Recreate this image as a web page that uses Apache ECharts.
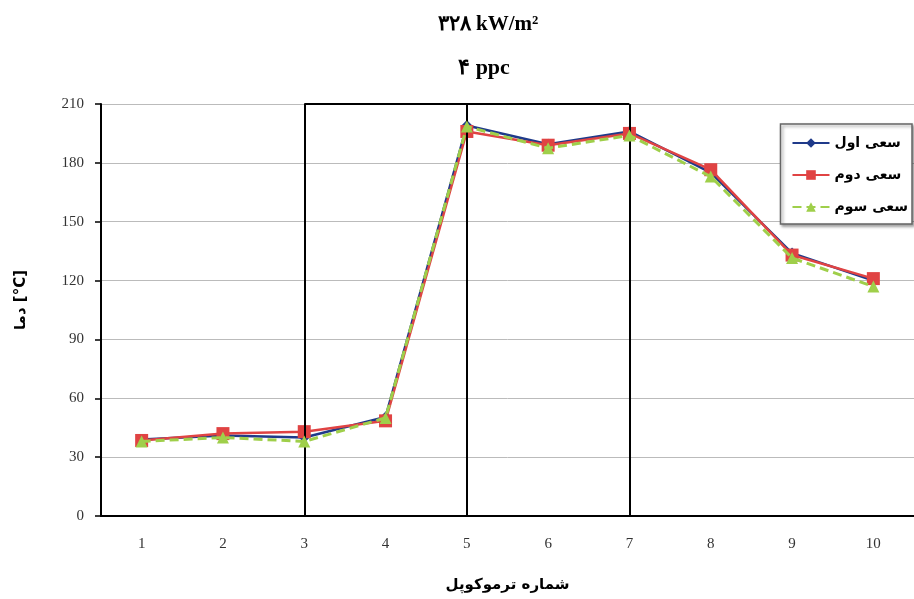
<!DOCTYPE html>
<html>
<head>
<meta charset="utf-8">
<script src="https://cdn.jsdelivr.net/npm/echarts@6/dist/echarts.min.js"></script>
<style>html,body{margin:0;padding:0;background:#fff}#c{width:914px;height:599px}</style>
</head>
<body>
<div id="c"></div>
<script>
var categories = ['1','2','3','4','5','6','7','8','9','10'];
var series1 = [39, 41, 40, 50.5, 199, 189.5, 196, 175, 134, 120];
var series2 = [38.5, 42, 43, 48.5, 196, 189, 195, 176.5, 133, 121];
var series3 = [38, 40, 38, 50, 198.5, 187.5, 194, 173, 131.5, 117];
var seriesNames = ['سعی اول', 'سعی دوم', 'سعی سوم'];
var yTicks = {min: 0, max: 210, interval: 30};

var chart = echarts.init(document.getElementById('c'));
var serif = 'Liberation Serif, DejaVu Serif, serif';
chart.setOption({
  animation: false,
  backgroundColor: '#fff',
  title: [
    {text: '۳۲۸ kW/m²', left: 483, top: 9, textAlign: 'center',
     textStyle: {fontFamily: serif, fontSize: 21, fontWeight: 'bold', color: '#000'}},
    {text: '۴ ppc', left: 479, top: 52, textAlign: 'center',
     textStyle: {fontFamily: serif, fontSize: 22, fontWeight: 'bold', color: '#000'}}
  ],
  legend: {
    orient: 'vertical', right: 2, top: 124, align: 'left',
    itemWidth: 37, itemHeight: 12, itemGap: 18,
    padding: [12, 4, 10, 11],
    borderColor: '#666', borderWidth: 1.5, backgroundColor: '#fff',
    shadowColor: 'rgba(0,0,0,0.35)', shadowBlur: 3, shadowOffsetX: 2, shadowOffsetY: 2,
    textStyle: {fontFamily: 'DejaVu Sans, Noto Sans, sans-serif', fontSize: 14, fontWeight: 'bold', color: '#000'},
    data: seriesNames
  },
  grid: {left: 101, right: -6, top: 104, bottom: 83, containLabel: false},
  xAxis: {
    type: 'category', data: categories, boundaryGap: true,
    name: 'شماره ترموکوپل', nameLocation: 'middle', nameGap: 62,
    nameTextStyle: {fontFamily: 'DejaVu Sans, sans-serif', fontSize: 15, fontWeight: 'bold', color: '#000'},
    axisLine: {lineStyle: {color: '#000', width: 2}},
    axisTick: {show: false},
    axisLabel: {fontFamily: serif, fontSize: 15, color: '#333', margin: 21},
    splitLine: {show: false}
  },
  yAxis: {
    type: 'value', min: yTicks.min, max: yTicks.max, interval: yTicks.interval,
    name: 'دما [°C]', nameLocation: 'middle', nameGap: 72, nameRotate: 90,
    nameTextStyle: {fontFamily: 'DejaVu Sans, sans-serif', fontSize: 15, fontWeight: 'bold', color: '#000', padding: [0, 0, 0, 20]},
    axisLine: {show: true, lineStyle: {color: '#000', width: 2}},
    axisTick: {show: true, length: 6, lineStyle: {color: '#000', width: 1.5}},
    axisLabel: {fontFamily: serif, fontSize: 15, color: '#333', margin: 17},
    splitLine: {show: true, lineStyle: {color: '#bbb', width: 1}}
  },
  series: [
    {name: seriesNames[0], type: 'line', data: series1, symbol: 'diamond', symbolSize: 11,
     lineStyle: {color: '#1f3a8a', width: 2.5}, itemStyle: {color: '#1f3a8a'}, z: 3,
     markLine: {
       silent: true, symbol: 'none', label: {show: false},
       lineStyle: {color: '#000', width: 2, type: 'solid'},
       data: [
         {xAxis: 2}, {xAxis: 4}, {xAxis: 6},
         [{coord: [2, 210]}, {coord: [6, 210]}]
       ]
     }},
    {name: seriesNames[1], type: 'line', data: series2, symbol: 'rect', symbolSize: 13,
     lineStyle: {color: '#e04343', width: 2.5}, itemStyle: {color: '#e04343'}, z: 4},
    {name: seriesNames[2], type: 'line', data: series3, symbol: 'triangle', symbolSize: 12,
     lineStyle: {color: '#9fcf4a', width: 3, type: [9, 5]}, itemStyle: {color: '#9fcf4a'}, z: 5}
  ]
});
</script>
</body>
</html>
